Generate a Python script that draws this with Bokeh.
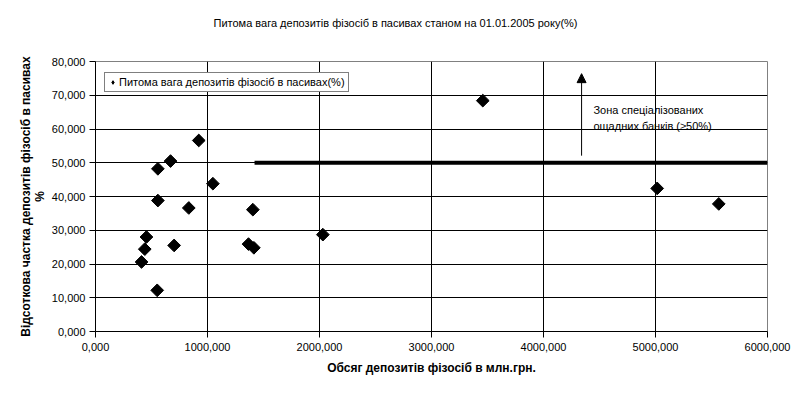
import numpy as np
from bokeh.plotting import figure
from bokeh.models import (FixedTicker, CustomJSTickFormatter, Arrow, NormalHead,
                          Label, Legend, LegendItem, Range1d, ColumnDataSource, Title)
from bokeh.embed import file_html
from bokeh.resources import INLINE

# ---- data ----
title_text = "Питома вага депозитів фізосіб в пасивах станом на 01.01.2005 року(%)"
series_name = "Питома вага депозитів фізосіб в пасивах(%)"
x_title = "Обсяг депозитів фізосіб в млн.грн."
y_title = "Відсоткова частка депозитів фізосіб в пасивах\n%"
zone_line1 = "Зона спеціалізованих"
zone_line2 = "ощадних банків (≥50%)"

deposits = [922, 670, 557, 1048, 557, 833, 1405, 455, 2030, 440, 702,
            1366, 1414, 411, 551, 3458, 5015, 5565]
shares = [56.6, 50.5, 48.2, 43.8, 38.8, 36.6, 36.1, 28.0, 28.7, 24.4, 25.5,
          25.9, 24.8, 20.6, 12.2, 68.4, 42.4, 37.8]

x_ticks = [0, 1000, 2000, 3000, 4000, 5000, 6000]
y_ticks = [0, 10, 20, 30, 40, 50, 60, 70, 80]

threshold_x = [1420, 6000]
threshold_y = [50, 50]
arrow_x = 4340
arrow_y = [52.1, 76.4]
zone_x = 4446
zone_y = [65.5, 60.8]

FONT = "Liberation Sans"

p = figure(width=796, height=394, output_backend="svg", toolbar_location=None,
           x_range=Range1d(x_ticks[0], x_ticks[-1]), y_range=Range1d(y_ticks[0], y_ticks[-1]),
           min_border_left=95, min_border_right=29, min_border_top=61, min_border_bottom=63)
p.title = None
p.background_fill_color = "white"
p.border_fill_color = "white"
p.outline_line_color = "#808080"
p.outline_line_width = 1

# spacer between frame and title, then the title itself (outermost)
p.add_layout(Title(text=" ", text_font_size="7px", standoff=19), "above")
p.add_layout(Title(text=title_text, align="left", offset=118, text_font=FONT,
                   text_font_size="11px", text_font_style="normal", text_color="black"),
             "above")

fmt = CustomJSTickFormatter(code="return tick.toFixed(3).replace('.', ',');")
for ax, ticks in ((p.xaxis, x_ticks), (p.yaxis, y_ticks)):
    ax.ticker = FixedTicker(ticks=ticks)
    ax.formatter = fmt
    ax.axis_line_color = "black"
    ax.major_tick_line_color = "black"
    ax.major_tick_in = 0
    ax.major_tick_out = 6
    ax.minor_tick_line_color = None
    ax.major_label_text_font = FONT
    ax.major_label_text_font_size = "11px"
    ax.major_label_text_color = "black"
    ax.axis_label_text_font = FONT
    ax.axis_label_text_font_size = "12px"
    ax.axis_label_text_font_style = "bold"
    ax.axis_label_text_color = "black"

p.xaxis.axis_label = x_title
p.yaxis.axis_label = y_title
p.xaxis.major_label_standoff = 5
p.yaxis.major_label_standoff = 4
p.xaxis.axis_label_standoff = 7
p.yaxis.axis_label_standoff = 2
p.yaxis.axis_label_text_line_height = 1.0

for g in (p.xgrid, p.ygrid):
    g.grid_line_color = "black"
    g.grid_line_width = 1
p.xgrid.ticker = FixedTicker(ticks=x_ticks)
p.ygrid.ticker = FixedTicker(ticks=y_ticks)

p.line(threshold_x, threshold_y, line_width=4, line_color="black")

p.scatter(deposits, shares, marker="square", angle=np.pi / 4, size=9,
          fill_color="black", line_color="black")

# legend proxy (a NaN point that is never drawn; only its symbol shows in the legend)
proxy = p.scatter(x="x", y="y", source=ColumnDataSource(dict(x=[np.nan], y=[np.nan])),
                  marker="diamond", size=9, fill_color="black", line_color="black")

p.add_layout(Arrow(end=NormalHead(size=9, fill_color="black", line_color="black"),
                   x_start=arrow_x, y_start=arrow_y[0], x_end=arrow_x, y_end=arrow_y[1],
                   line_color="black", line_width=1))

for ty, txt in zip(zone_y, (zone_line1, zone_line2)):
    p.add_layout(Label(x=zone_x, y=ty, text=txt, text_font=FONT, text_font_size="11px",
                       text_color="black", text_baseline="middle", text_align="left"))

legend = Legend(items=[LegendItem(label=series_name, renderers=[proxy])], location=(9, 239),
                label_text_font=FONT, label_text_font_size="11px", label_text_color="black",
                padding=3, spacing=0, margin=0, glyph_width=9, glyph_height=10,
                label_standoff=2, border_line_color="black", border_line_width=1,
                background_fill_color="white", background_fill_alpha=1)
p.add_layout(legend)

open("out.html", "w").write(file_html(p, INLINE))
